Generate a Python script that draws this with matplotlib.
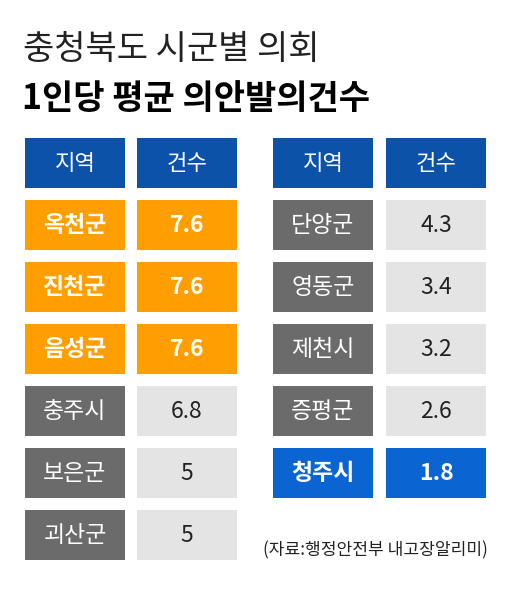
import matplotlib.pyplot as plt

plt.rcParams['font.family'] = ['Noto Sans CJK KR', 'DejaVu Sans']

# data
left_regions = ["옥천군", "진천군", "음성군", "충주시", "보은군", "괴산군"]
left_counts = [7.6, 7.6, 7.6, 6.8, 5, 5]
right_regions = ["단양군", "영동군", "제천시", "증평군", "청주시"]
right_counts = [4.3, 3.4, 3.2, 2.6, 1.8]
headers = ["지역", "건수"]

title1 = "충청북도 시군별 의회"
title2 = "1인당 평균 의안발의건수"
source = "(자료:행정안전부 내고장알리미)"

HEAD = "#0B52A8"
ORANGE = "#FF9E00"
DGREY = "#6B6B6B"
LGREY = "#E4E4E4"
BLUE = "#0A64D2"

fig = plt.figure(figsize=(5.25, 6), dpi=100)
ax = fig.add_axes([0, 0, 1, 1])
ax.set_xlim(0, 525)
ax.set_ylim(600, 0)
ax.axis("off")

cell_w, cell_h = 100, 50
top0, pitch = 138, 62
col_x = [[25, 137], [273, 386]]


def style(region):
    if region in ("옥천군", "진천군", "음성군"):
        return ORANGE, ORANGE, "white", "white", "bold"
    if region == "청주시":
        return BLUE, BLUE, "white", "white", "bold"
    return DGREY, LGREY, "white", "#222222", "light"


def draw_block(cx, regions, counts):
    # header row
    for x, h in zip(cx, headers):
        ax.bar(x, cell_h, width=cell_w, bottom=top0, align="edge", color=HEAD)
        ax.text(x + cell_w / 2, top0 + cell_h / 2, h, ha="center", va="center",
                color="white", fontsize=16, fontweight="light")
    for i, (r, v) in enumerate(zip(regions, counts)):
        y = top0 + pitch * (i + 1)
        c1, c2, t1, t2, w = style(r)
        ax.bar(cx[0], cell_h, width=cell_w, bottom=y, align="edge", color=c1)
        ax.bar(cx[1], cell_h, width=cell_w, bottom=y, align="edge", color=c2)
        ax.text(cx[0] + cell_w / 2, y + cell_h / 2, r, ha="center", va="center",
                color=t1, fontsize=16.5, fontweight=w)
        ax.text(cx[1] + cell_w / 2, y + cell_h / 2, f"{v:g}", ha="center", va="center",
                color=t2, fontsize=16.5, fontweight=w)


draw_block(col_x[0], left_regions, left_counts)
draw_block(col_x[1], right_regions, right_counts)

ax.text(23, 50, title1, ha="left", va="center", fontsize=24.5, fontweight="light",
        color="#222222")
ax.text(22, 98, title2, ha="left", va="center", fontsize=24.5, fontweight="bold",
        color="black")
ax.text(488, 550, source, ha="right", va="center", fontsize=12.3,
        fontweight="light", color="#222222")

fig.savefig("out.png", dpi=100)
